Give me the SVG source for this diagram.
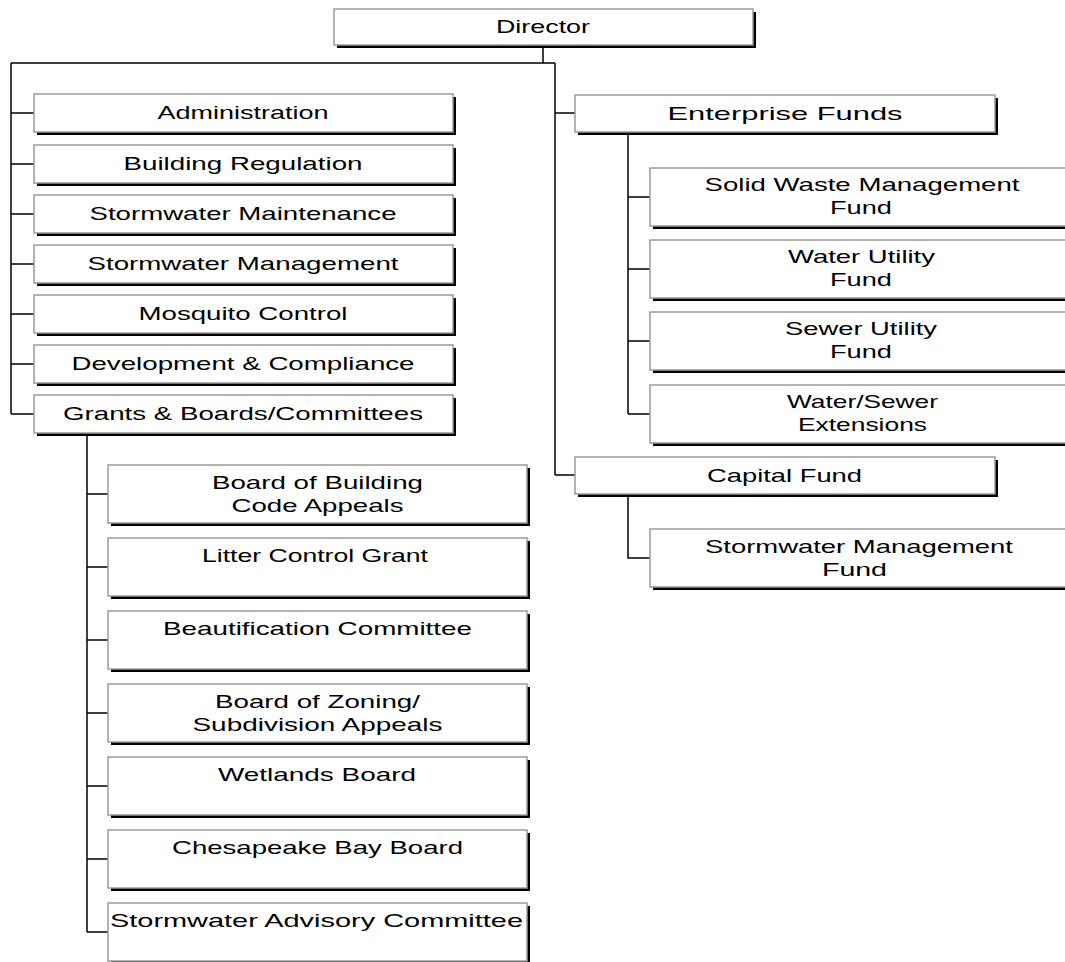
<svg xmlns="http://www.w3.org/2000/svg" width="1065" height="962" viewBox="0 0 1065 962">
<style>
.sh{fill:#000}
.bx{fill:#fff;stroke:#9a9a9a;stroke-width:1.5}
.t{font-family:"Liberation Sans",Arial,sans-serif;font-size:18.5px;fill:#000;text-anchor:middle}
.c{fill:none;stroke:#000;stroke-width:1.5}
</style>
<rect width="1065" height="962" fill="#fff"/>
<g id="connectors">
<path class="c" d="M543,46V63M11,63H555M11,63V414M11,113H34M11,164H34M11,214H34M11,264H34M11,314H34M11,364H34M11,414H34"/>
<path class="c" d="M87,434V932M87,494H108M87,567H108M87,640H108M87,713H108M87,786H108M87,859H108M87,932H108"/>
<path class="c" d="M555,63V475M555,113H575M555,475H575"/>
<path class="c" d="M628,133V414M628,197H650M628,269H650M628,341H650M628,414H650M628,495V558H650"/>
</g>
<g id="director"><rect class="sh" x="337" y="12" width="419" height="36"/><rect class="bx" x="334" y="9" width="419" height="36"/><text class="t" transform="scale(1.48,1)" x="366.89" y="33" textLength="63.51" lengthAdjust="spacingAndGlyphs">Director</text></g>
<g id="administration"><rect class="sh" x="37" y="97" width="419" height="38"/><rect class="bx" x="34" y="94" width="419" height="38"/><text class="t" transform="scale(1.48,1)" x="164.19" y="119.5" textLength="115.54" lengthAdjust="spacingAndGlyphs">Administration</text></g>
<g id="building-regulation"><rect class="sh" x="37" y="148" width="419" height="38"/><rect class="bx" x="34" y="145" width="419" height="38"/><text class="t" transform="scale(1.48,1)" x="164.19" y="170.5" textLength="161.49" lengthAdjust="spacingAndGlyphs">Building Regulation</text></g>
<g id="stormwater-maintenance"><rect class="sh" x="37" y="198" width="419" height="38"/><rect class="bx" x="34" y="195" width="419" height="38"/><text class="t" transform="scale(1.48,1)" x="164.19" y="220.5" textLength="207.43" lengthAdjust="spacingAndGlyphs">Stormwater Maintenance</text></g>
<g id="stormwater-management"><rect class="sh" x="37" y="248" width="419" height="38"/><rect class="bx" x="34" y="245" width="419" height="38"/><text class="t" transform="scale(1.48,1)" x="164.19" y="270.5" textLength="210.14" lengthAdjust="spacingAndGlyphs">Stormwater Management</text></g>
<g id="mosquito-control"><rect class="sh" x="37" y="298" width="419" height="38"/><rect class="bx" x="34" y="295" width="419" height="38"/><text class="t" transform="scale(1.48,1)" x="164.19" y="320.5" textLength="141.22" lengthAdjust="spacingAndGlyphs">Mosquito Control</text></g>
<g id="development-compliance"><rect class="sh" x="37" y="348" width="419" height="38"/><rect class="bx" x="34" y="345" width="419" height="38"/><text class="t" transform="scale(1.48,1)" x="164.19" y="370.5" textLength="231.76" lengthAdjust="spacingAndGlyphs">Development &amp; Compliance</text></g>
<g id="grants-boards"><rect class="sh" x="37" y="398" width="419" height="38"/><rect class="bx" x="34" y="395" width="419" height="38"/><text class="t" transform="scale(1.48,1)" x="164.19" y="420.5" textLength="243.24" lengthAdjust="spacingAndGlyphs">Grants &amp; Boards/Committees</text></g>
<g id="board-building-code"><rect class="sh" x="111" y="468" width="419" height="58"/><rect class="bx" x="108" y="465" width="419" height="58"/><text class="t" transform="scale(1.48,1)" x="214.53" y="489" textLength="142.57" lengthAdjust="spacingAndGlyphs">Board of Building</text><text class="t" transform="scale(1.48,1)" x="214.53" y="512" textLength="116.22" lengthAdjust="spacingAndGlyphs">Code Appeals</text></g>
<g id="litter-control"><rect class="sh" x="111" y="541" width="419" height="58"/><rect class="bx" x="108" y="538" width="419" height="58"/><text class="t" transform="scale(1.48,1)" x="212.84" y="562" textLength="152.70" lengthAdjust="spacingAndGlyphs">Litter Control Grant</text></g>
<g id="beautification"><rect class="sh" x="111" y="614" width="419" height="58"/><rect class="bx" x="108" y="611" width="419" height="58"/><text class="t" transform="scale(1.48,1)" x="214.53" y="635" textLength="208.78" lengthAdjust="spacingAndGlyphs">Beautification Committee</text></g>
<g id="board-zoning"><rect class="sh" x="111" y="687" width="419" height="58"/><rect class="bx" x="108" y="684" width="419" height="58"/><text class="t" transform="scale(1.48,1)" x="214.53" y="708" textLength="138.51" lengthAdjust="spacingAndGlyphs">Board of Zoning/</text><text class="t" transform="scale(1.48,1)" x="214.53" y="731" textLength="168.92" lengthAdjust="spacingAndGlyphs">Subdivision Appeals</text></g>
<g id="wetlands-board"><rect class="sh" x="111" y="760" width="419" height="58"/><rect class="bx" x="108" y="757" width="419" height="58"/><text class="t" transform="scale(1.48,1)" x="214.19" y="781" textLength="133.78" lengthAdjust="spacingAndGlyphs">Wetlands Board</text></g>
<g id="chesapeake-bay"><rect class="sh" x="111" y="833" width="419" height="58"/><rect class="bx" x="108" y="830" width="419" height="58"/><text class="t" transform="scale(1.48,1)" x="214.53" y="854" textLength="196.62" lengthAdjust="spacingAndGlyphs">Chesapeake Bay Board</text></g>
<g id="stormwater-advisory"><rect class="sh" x="111" y="906" width="419" height="58"/><rect class="bx" x="108" y="903" width="419" height="58"/><text class="t" transform="scale(1.48,1)" x="213.85" y="927" textLength="279.05" lengthAdjust="spacingAndGlyphs">Stormwater Advisory Committee</text></g>
<g id="enterprise-funds"><rect class="sh" x="578" y="98" width="420" height="37"/><rect class="bx" x="575" y="95" width="420" height="37"/><text class="t" transform="scale(1.48,1)" x="530.41" y="120" textLength="158.78" lengthAdjust="spacingAndGlyphs">Enterprise Funds</text></g>
<g id="solid-waste"><rect class="sh" x="653" y="171" width="424" height="58"/><rect class="bx" x="650" y="168" width="424" height="58"/><text class="t" transform="scale(1.48,1)" x="582.43" y="191.5" textLength="212.84" lengthAdjust="spacingAndGlyphs">Solid Waste Management</text><text class="t" transform="scale(1.48,1)" x="581.76" y="214" textLength="41.89" lengthAdjust="spacingAndGlyphs">Fund</text></g>
<g id="water-utility"><rect class="sh" x="653" y="243" width="424" height="58"/><rect class="bx" x="650" y="240" width="424" height="58"/><text class="t" transform="scale(1.48,1)" x="582.09" y="263.5" textLength="99.32" lengthAdjust="spacingAndGlyphs">Water Utility</text><text class="t" transform="scale(1.48,1)" x="581.76" y="286" textLength="41.89" lengthAdjust="spacingAndGlyphs">Fund</text></g>
<g id="sewer-utility"><rect class="sh" x="653" y="315" width="424" height="58"/><rect class="bx" x="650" y="312" width="424" height="58"/><text class="t" transform="scale(1.48,1)" x="581.76" y="335.5" textLength="102.70" lengthAdjust="spacingAndGlyphs">Sewer Utility</text><text class="t" transform="scale(1.48,1)" x="581.76" y="358" textLength="41.89" lengthAdjust="spacingAndGlyphs">Fund</text></g>
<g id="water-sewer-ext"><rect class="sh" x="653" y="388" width="424" height="58"/><rect class="bx" x="650" y="385" width="424" height="58"/><text class="t" transform="scale(1.48,1)" x="582.77" y="408.5" textLength="102.03" lengthAdjust="spacingAndGlyphs">Water/Sewer</text><text class="t" transform="scale(1.48,1)" x="582.77" y="431" textLength="87.16" lengthAdjust="spacingAndGlyphs">Extensions</text></g>
<g id="capital-fund"><rect class="sh" x="578" y="460" width="420" height="37"/><rect class="bx" x="575" y="457" width="420" height="37"/><text class="t" transform="scale(1.48,1)" x="530.07" y="482" textLength="104.73" lengthAdjust="spacingAndGlyphs">Capital Fund</text></g>
<g id="stormwater-mgmt-fund"><rect class="sh" x="653" y="532" width="424" height="58"/><rect class="bx" x="650" y="529" width="424" height="58"/><text class="t" transform="scale(1.48,1)" x="580.41" y="553" textLength="208.11" lengthAdjust="spacingAndGlyphs">Stormwater Management</text><text class="t" transform="scale(1.48,1)" x="577.36" y="576" textLength="43.92" lengthAdjust="spacingAndGlyphs">Fund</text></g>
</svg>
